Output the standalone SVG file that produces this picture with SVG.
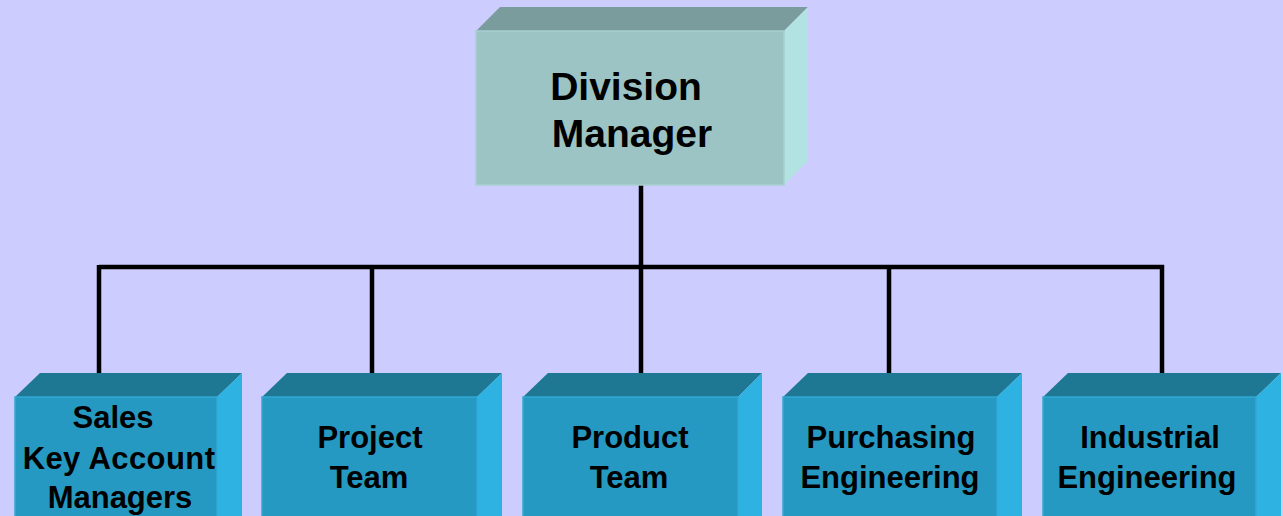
<svg xmlns="http://www.w3.org/2000/svg" width="1283" height="516" viewBox="0 0 1283 516">
<style>
.bg{fill:#CCCCFF}
.tf{fill:#7A9C9C}
.ff{fill:#9CC4C4;stroke:#A8D0D0;stroke-width:1.5}
.rf{fill:#B2E2E2}
.btf{fill:#1E7894}
.bff{fill:#2599C2;stroke:#33A8D4;stroke-width:1.5}
.brf{fill:#2DB2E2}
.t1{font-family:"Liberation Sans",Arial,sans-serif;font-weight:bold;font-size:39px;fill:#000;text-anchor:middle}
.t2{font-family:"Liberation Sans",Arial,sans-serif;font-weight:bold;font-size:31px;fill:#000;text-anchor:middle}
.c{stroke:#000;stroke-width:4.5;fill:none;stroke-linecap:butt}
</style>
<rect class="bg" x="0" y="0" width="1283" height="516"/>
<g id="connectors">
<path class="c" d="M641,182 V267"/>
<path class="c" d="M99,267 H1164"/>
<path class="c" d="M99,265 V375"/>
<path class="c" d="M372,265 V375"/>
<path class="c" d="M641,265 V375"/>
<path class="c" d="M889,265 V375"/>
<path class="c" d="M1162,265 V375"/>
</g>
<g id="division-manager">
<polygon class="tf" points="476,31 500,7 808,7 784,31"/>
<polygon class="rf" points="784,31 808,7 808,161 784,185"/>
<rect class="ff" x="476" y="31" width="308" height="154"/>
<text class="t1" x="626" y="100">Division</text>
<text class="t1" x="632" y="147">Manager</text>
</g>
<g id="sales">
<polygon class="btf" points="15,397 40,373 242,373 217,397"/>
<polygon class="brf" points="217,397 242,373 242,516 217,516"/>
<rect class="bff" x="15" y="397" width="202" height="125"/>
<text class="t2" x="113" y="428">Sales</text>
<text class="t2" x="119" y="469" letter-spacing="0.4">Key Account</text>
<text class="t2" x="120" y="508">Managers</text>
</g>
<g id="project-team">
<polygon class="btf" points="262,397 287,373 502,373 477,397"/>
<polygon class="brf" points="477,397 502,373 502,516 477,516"/>
<rect class="bff" x="262" y="397" width="215" height="125"/>
<text class="t2" x="370" y="448">Project</text>
<text class="t2" x="369" y="488">Team</text>
</g>
<g id="product-team">
<polygon class="btf" points="523,397 548,373 762,373 738,397"/>
<polygon class="brf" points="738,397 762,373 762,516 738,516"/>
<rect class="bff" x="523" y="397" width="215" height="125"/>
<text class="t2" x="630" y="448">Product</text>
<text class="t2" x="629" y="488">Team</text>
</g>
<g id="purchasing-engineering">
<polygon class="btf" points="783,397 808,373 1022,373 997,397"/>
<polygon class="brf" points="997,397 1022,373 1022,516 997,516"/>
<rect class="bff" x="783" y="397" width="214" height="125"/>
<text class="t2" x="891" y="448">Purchasing</text>
<text class="t2" x="890" y="488">Engineering</text>
</g>
<g id="industrial-engineering">
<polygon class="btf" points="1043,397 1068,373 1281,373 1256,397"/>
<polygon class="brf" points="1256,397 1281,373 1281,516 1256,516"/>
<rect class="bff" x="1043" y="397" width="213" height="125"/>
<text class="t2" x="1150" y="448">Industrial</text>
<text class="t2" x="1147" y="488">Engineering</text>
</g>
</svg>
